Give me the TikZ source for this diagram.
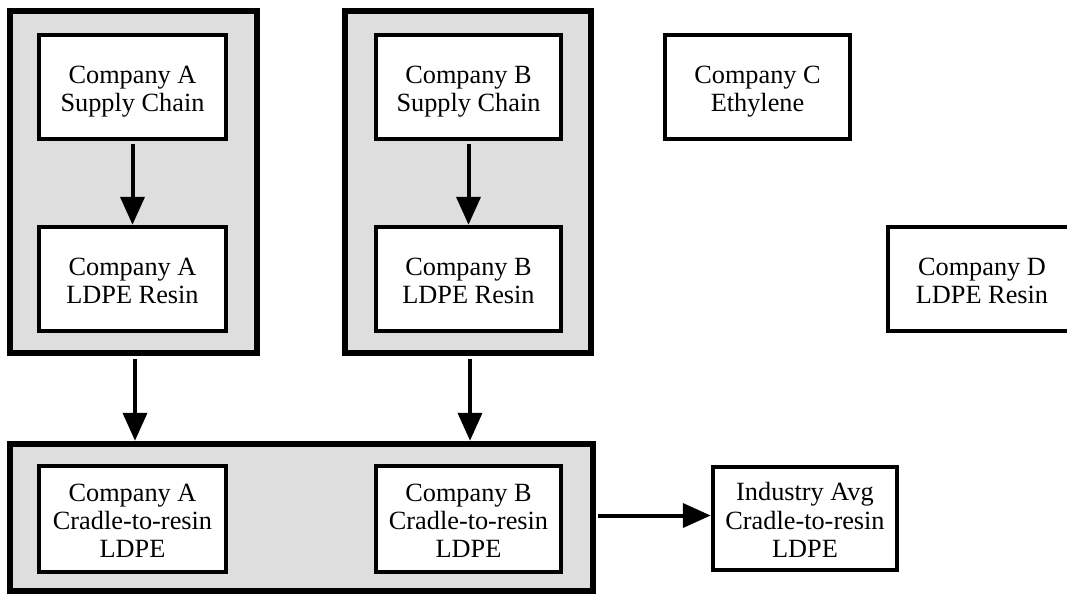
\documentclass[tikz,border=0pt]{standalone}
\usepackage{fontspec}
\setmainfont{Liberation Serif}
\usetikzlibrary{arrows.meta}
\definecolor{grpfill}{RGB}{222,222,222}
\newcommand{\topstr}{\rule{0pt}{27pt}}
\newcommand{\botstr}{\rule[-6pt]{0pt}{6pt}}
\tikzset{
  grp/.style={draw=black, fill=grpfill, line width=6.5pt, rectangle, inner sep=0pt},
  bx/.style={draw=black, fill=white, line width=4.5pt, rectangle, inner sep=0pt,
    align=center, font=\fontsize{26.3}{28.3}\selectfont},
  arr/.style={line width=4pt, -{Triangle[length=28pt,width=24pt]}}
}
\begin{document}
\begin{tikzpicture}[x=1pt,y=-1pt]
\useasboundingbox (0,0) rectangle (1067,595);
% groups
\node[grp, minimum width=247pt, minimum height=342pt] (gA) at (133.5,182) {};
\node[grp, minimum width=246pt, minimum height=342pt] (gB) at (468,182) {};
\node[grp, minimum width=583pt, minimum height=147pt] (gBot) at (301.5,517.5) {};
% boxes
\node[bx, minimum width=187pt, minimum height=104pt] (aSC) at (132.5,87) {\topstr Company A\\Supply Chain\botstr};
\node[bx, minimum width=187pt, minimum height=104pt] (aLD) at (132.5,279) {\topstr Company A\\LDPE Resin\botstr};
\node[bx, minimum width=185pt, minimum height=104pt] (bSC) at (468.5,87) {\topstr Company B\\Supply Chain\botstr};
\node[bx, minimum width=185pt, minimum height=104pt] (bLD) at (468.5,279) {\topstr Company B\\LDPE Resin\botstr};
\node[bx, minimum width=185pt, minimum height=104pt] (cEt) at (757.5,87) {\topstr Company C\\Ethylene\botstr};
\node[bx, minimum width=188pt, minimum height=104pt] (dLD) at (982,279) {\topstr Company D\\LDPE Resin\botstr};
\node[bx, minimum width=187pt, minimum height=106pt] (aCR) at (132.5,519) {\topstr Company A\\Cradle-to-resin\\LDPE\botstr};
\node[bx, minimum width=185pt, minimum height=106pt] (bCR) at (468.5,519) {\topstr Company B\\Cradle-to-resin\\LDPE\botstr};
\node[bx, minimum width=184pt, minimum height=103pt] (ind) at (805,518.5) {\topstr Industry Avg\\Cradle-to-resin\\LDPE\botstr};
% connectors
\draw[arr, shorten <=3pt] (aSC) -- (aLD);
\draw[arr, shorten <=3pt] (bSC) -- (bLD);
\draw[arr, shorten <=3pt] ([xshift=1.5pt]gA.south) -- ([xshift=1.5pt]gA.south |- gBot.north);
\draw[arr, shorten <=3pt] ([xshift=2pt]gB.south) -- ([xshift=2pt]gB.south |- gBot.north);
\draw[arr, shorten <=2pt] ([yshift=2pt]gBot.east) -- ([yshift=2pt]gBot.east -| ind.west);
\end{tikzpicture}
\end{document}
